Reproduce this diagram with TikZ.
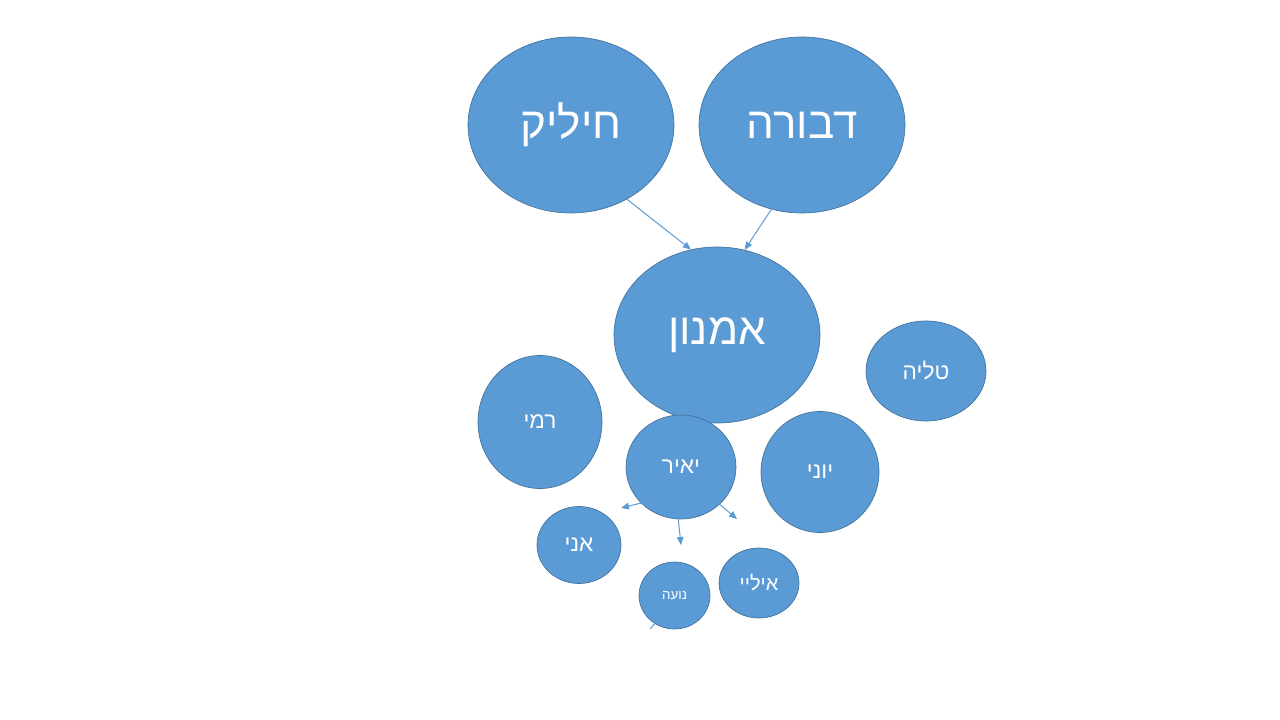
\documentclass[tikz,border=0pt]{standalone}
\usepackage{fontspec}
\newfontfamily\hebfont[Script=Hebrew]{Liberation Sans}
\TeXXeTstate=1
\usetikzlibrary{shapes.geometric,arrows.meta}
\definecolor{bubblefill}{HTML}{5B9BD5}
\definecolor{bubblerim}{HTML}{41719C}
\newcommand{\heb}[1]{\hebfont\beginR #1\endR}
\begin{document}
\begin{tikzpicture}[x=0.75pt,y=-0.75pt,
		bubble/.style={ellipse,draw=bubblerim,fill=bubblefill,line width=0.5pt,inner sep=0pt,text=white},
		big/.style={bubble,minimum width=154.5pt,minimum height=132pt,font=\fontsize{33}{38}\selectfont},
		mid/.style={font=\fontsize{17}{20}\selectfont},
		link/.style={draw=bubblefill,line width=0.75pt,-{Triangle[length=6pt,width=5pt]}}]
		\useasboundingbox (0,0) rectangle (1280,720);
		% top row
		\node [big] (hilik) at (571,125) {\heb{חיליק}};
		\node [big] (dvora) at (802,125) {\heb{דבורה}};
		\node [big] (amnon) at (717,335) {\heb{אמנון}};
		% smaller bubbles
		\node [bubble,mid,minimum width=90pt,minimum height=75pt] (talya) at (926,371) {\heb{טליה}};
		\node [bubble,mid,minimum width=93pt,minimum height=99.75pt] (rami) at (540,422) {\heb{רמי}};
		\node [bubble,mid,minimum width=82.5pt,minimum height=78pt] (yair) at (681,467) {\heb{יאיר}};
		\node [bubble,mid,minimum width=88.5pt,minimum height=90.75pt] (yoni) at (820,472) {\heb{יוני}};
		\node [bubble,mid,minimum width=63pt,minimum height=57.75pt] (ani) at (579,545) {\heb{אני}};
		\node [bubble,font=\fontsize{10}{12}\selectfont,minimum width=53.25pt,minimum height=50.25pt] (noa) at (674.5,595.5) {\heb{נועה}};
		\node [bubble,font=\fontsize{15}{18}\selectfont,minimum width=60pt,minimum height=52.5pt] (ili) at (759,583) {\heb{איליי}};
		% free ends
		\coordinate (yairL) at (621,508);
		\coordinate (yairD) at (681,545);
		\coordinate (yairR) at (737,519);
		\coordinate (noaEnd) at (650,629);
		% connectors
		\draw [link] (hilik.-53) -- (amnon.107);
		\draw [link] (dvora.-110) -- (amnon.72);
		\draw [link] (yair.-138) -- (yairL);
		\draw [link] (yair.-93) -- (yairD);
		\draw [link] (yair.-44) -- (yairR);
		\draw [draw=bubblefill,line width=0.75pt] (noa.-125) -- (noaEnd);
	\end{tikzpicture}
\end{document}
